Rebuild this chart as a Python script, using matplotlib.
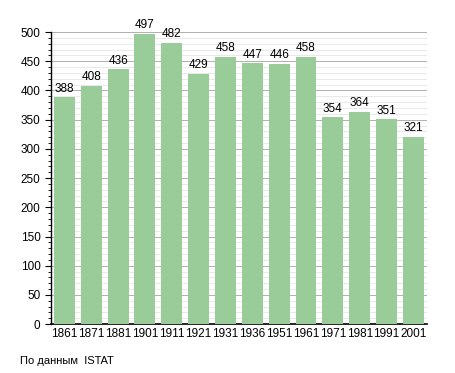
import matplotlib.pyplot as plt
from matplotlib.ticker import MultipleLocator

years = ['1861', '1871', '1881', '1901', '1911', '1921', '1931',
         '1936', '1951', '1961', '1971', '1981', '1991', '2001']
population = [388, 408, 436, 497, 482, 429, 458, 447, 446, 458, 354, 364, 351, 321]

plt.rcParams['font.family'] = ['Liberation Sans', 'DejaVu Sans']

fig = plt.figure(figsize=(4.55, 3.73), dpi=100)
ax = fig.add_axes([0.112, 0.131, 0.826, 0.783])

x = range(len(years))
ax.bar(x, population, width=0.78, color='#99cc99', zorder=3)

for xi, v in zip(x, population):
    ax.text(xi, v + 4, str(v), ha='center', va='bottom', fontsize=8.5, zorder=4)

ax.set_xlim(-0.5, len(years) - 0.5)
ax.set_ylim(0, 500)
ax.set_xticks(list(x))
ax.set_xticklabels(years, fontsize=8.5)
ax.yaxis.set_major_locator(MultipleLocator(50))
ax.yaxis.set_minor_locator(MultipleLocator(10))
ax.tick_params(axis='y', labelsize=8.5, length=4, width=0.8)
ax.tick_params(axis='y', which='minor', length=2, width=0.6)
ax.tick_params(axis='x', length=0, pad=3)

ax.grid(axis='y', which='major', color='#b0b0b0', linewidth=0.7, zorder=0)
ax.grid(axis='y', which='minor', color='#e0e0e0', linewidth=0.5, zorder=0)

for s in ['top', 'right']:
    ax.spines[s].set_visible(False)
ax.spines['left'].set_linewidth(1)
ax.spines['bottom'].set_linewidth(1.2)

fig.text(0.045, 0.02, 'По данным  ISTAT', fontsize=8, ha='left', va='bottom')

fig.savefig('out.png', dpi=100)
